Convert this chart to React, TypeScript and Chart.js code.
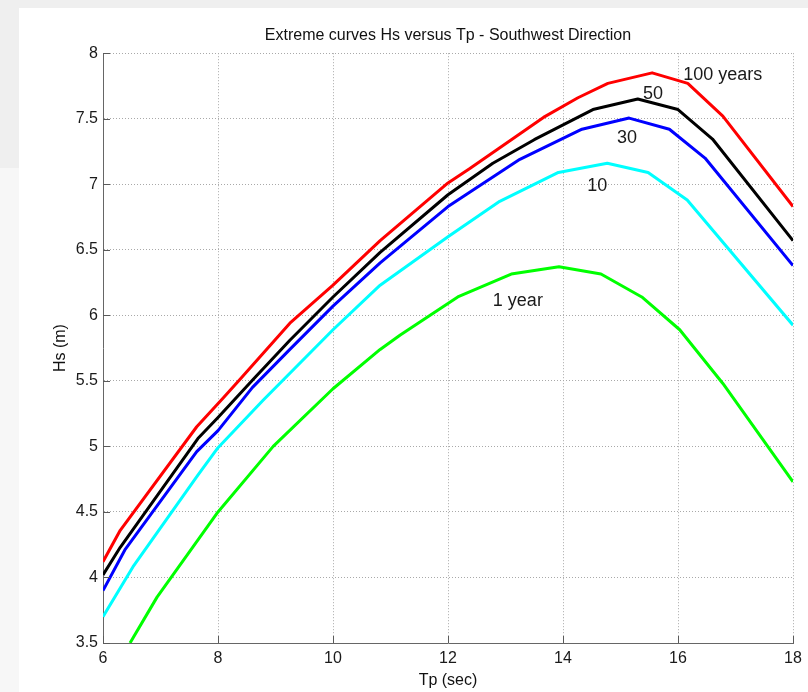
import React, { useEffect, useRef } from "react";
import { Chart, registerables } from "chart.js";

Chart.register(...registerables);

const FONT = "'Liberation Sans', Arial, Helvetica, sans-serif";

// Axis ticks
const xTickValues = [6, 8, 10, 12, 14, 16, 18];
const yTickValues = [3.5, 4, 4.5, 5, 5.5, 6, 6.5, 7, 7.5, 8];

// Curves (Tp in sec, Hs in m)
const tp100 = [6, 6.3, 7.63, 8.09, 8.38, 9.25, 10, 10.82, 12, 12.38, 13.66, 14.26, 14.78, 15.55, 16.17, 16.78, 18];
const hs100 = [4.12, 4.36, 5.15, 5.37, 5.51, 5.94, 6.23, 6.57, 7.01, 7.12, 7.51, 7.66, 7.77, 7.85, 7.77, 7.52, 6.83];

const tp50 = [6, 6.3, 7.65, 8, 8.61, 9.25, 10, 10.82, 12, 12.78, 13.5, 14.52, 15.3, 16.0, 16.6, 18];
const hs50 = [4.02, 4.23, 5.06, 5.22, 5.51, 5.81, 6.14, 6.48, 6.92, 7.16, 7.34, 7.57, 7.65, 7.57, 7.345, 6.57];

const tp30 = [6, 6.38, 7.63, 8, 8.6, 9.25, 10, 10.82, 12, 13.25, 14.33, 15.15, 15.85, 16.47, 18];
const hs30 = [3.9, 4.21, 4.96, 5.12, 5.45, 5.74, 6.07, 6.4, 6.83, 7.19, 7.42, 7.505, 7.42, 7.2, 6.38];

const tp10 = [6, 6.52, 7.65, 8, 8.78, 10, 10.82, 12, 12.9, 13.92, 14.77, 15.48, 16.16, 18];
const hs10 = [3.7, 4.08, 4.78, 4.99, 5.35, 5.89, 6.23, 6.6, 6.87, 7.09, 7.16, 7.09, 6.88, 5.925];

const tp1 = [6.47, 6.94, 8, 8.96, 10, 10.82, 11.17, 12.17, 13.1, 13.93, 14.66, 15.37, 16.03, 16.78, 18];
const hs1 = [3.5, 3.85, 4.5, 5.0, 5.44, 5.74, 5.85, 6.14, 6.315, 6.37, 6.315, 6.14, 5.89, 5.48, 4.73];

// Curve labels, anchored in data coordinates
const labelTexts = ["100 years", "50", "30", "10", "1 year"];
const labelTp = [16.09, 15.39, 14.94, 14.42, 12.78];
const labelHs = [7.83, 7.69, 7.355, 6.985, 6.11];

const pts = (xs: number[], ys: number[]) => xs.map((x, i) => ({ x, y: ys[i] }));

const backgroundPlugin = {
  id: "figBackground",
  beforeDraw(chart: any) {
    const { ctx, width, height } = chart;
    ctx.save();
    ctx.fillStyle = "#f7f7f7";
    ctx.fillRect(0, 0, width, height);
    ctx.fillStyle = "#efefef";
    ctx.fillRect(0, 0, width, 8);
    ctx.fillRect(0, 0, 19, 168);
    ctx.fillStyle = "#ffffff";
    ctx.fillRect(19, 8, width - 19, height - 8);
    ctx.restore();
  },
};

const ticksAndLabelsPlugin = {
  id: "matlabTicks",
  afterDatasetsDraw(chart: any) {
    const { ctx, chartArea, scales } = chart;
    const xs = scales.x;
    const ys = scales.y;
    ctx.save();
    ctx.strokeStyle = "#5a5a5a";
    ctx.lineWidth = 1;
    ctx.beginPath();
    xTickValues.forEach((v) => {
      const px = Math.round(xs.getPixelForValue(v)) + 0.5;
      ctx.moveTo(px, chartArea.bottom);
      ctx.lineTo(px, chartArea.bottom - 7);
    });
    yTickValues.forEach((v) => {
      const py = Math.round(ys.getPixelForValue(v)) + 0.5;
      ctx.moveTo(chartArea.left, py);
      ctx.lineTo(chartArea.left + 7, py);
    });
    ctx.stroke();

    ctx.fillStyle = "#1a1a1a";
    ctx.font = "18px " + FONT;
    ctx.textAlign = "left";
    ctx.textBaseline = "middle";
    labelTexts.forEach((t, i) => {
      ctx.fillText(t, xs.getPixelForValue(labelTp[i]), ys.getPixelForValue(labelHs[i]));
    });
    ctx.restore();
  },
};

export default function App() {
  const canvasRef = useRef<HTMLCanvasElement | null>(null);

  useEffect(() => {
    if (!canvasRef.current) return;
    Chart.defaults.font.family = FONT;
    const gridOpts = {
      color: "#a9a9a9",
      lineWidth: 1,
      drawTicks: false,
    };
    const borderOpts = {
      display: true,
      color: "#666666",
      width: 1,
      dash: [1, 2],
    };
    const chart = new Chart(canvasRef.current, {
      type: "line",
      data: {
        datasets: [
          { label: "100 years", data: pts(tp100, hs100), borderColor: "#ff0000" },
          { label: "50", data: pts(tp50, hs50), borderColor: "#000000" },
          { label: "30", data: pts(tp30, hs30), borderColor: "#0000ff" },
          { label: "10", data: pts(tp10, hs10), borderColor: "#00ffff" },
          { label: "1 year", data: pts(tp1, hs1), borderColor: "#00ff00" },
        ].map((d) => ({
          ...d,
          borderWidth: 3,
          pointRadius: 0,
          pointHoverRadius: 0,
          tension: 0,
          fill: false,
          borderCapStyle: "butt" as const,
          borderJoinStyle: "round" as const,
        })),
      },
      options: {
        responsive: false,
        animation: false,
        events: [],
        layout: { padding: { left: 44, right: 15, top: 0, bottom: 0 } },
        plugins: {
          legend: { display: false },
          tooltip: { enabled: false },
          title: {
            display: true,
            text: "Extreme curves Hs versus Tp - Southwest Direction",
            fullSize: false,
            color: "#111111",
            font: { size: 16, weight: "normal", family: FONT },
            padding: { top: 26, bottom: 8 },
          },
        },
        scales: {
          x: {
            type: "linear",
            min: 6,
            max: 18,
            afterFit: (s: any) => {
              s.height = 49;
            },
            ticks: {
              stepSize: 2,
              padding: 6,
              color: "#1a1a1a",
              font: { size: 16, family: FONT },
              maxRotation: 0,
              autoSkip: false,
            },
            grid: gridOpts,
            border: borderOpts,
            title: {
              display: true,
              text: "Tp (sec)",
              color: "#111111",
              font: { size: 16, family: FONT },
              padding: { top: 0, bottom: 2 },
            },
          },
          y: {
            type: "linear",
            min: 3.5,
            max: 8,
            afterFit: (s: any) => {
              s.width = 59;
            },
            afterBuildTicks: (s: any) => {
              s.ticks = yTickValues.map((v) => ({ value: v }));
            },
            ticks: {
              padding: 5,
              color: "#1a1a1a",
              font: { size: 16, family: FONT },
              callback: (v: any) => String(v),
              autoSkip: false,
            },
            grid: gridOpts,
            border: borderOpts,
            title: {
              display: true,
              text: "Hs (m)",
              color: "#111111",
              font: { size: 16, family: FONT },
              padding: { top: 7.4, bottom: 0 },
            },
          },
        },
      },
      plugins: [backgroundPlugin, ticksAndLabelsPlugin],
    } as any);
    return () => chart.destroy();
  }, []);

  return (
    <div style={{ position: "absolute", left: 0, top: 0, width: 808, height: 692 }}>
      <canvas ref={canvasRef} width={808} height={692} style={{ display: "block" }} />
    </div>
  );
}
